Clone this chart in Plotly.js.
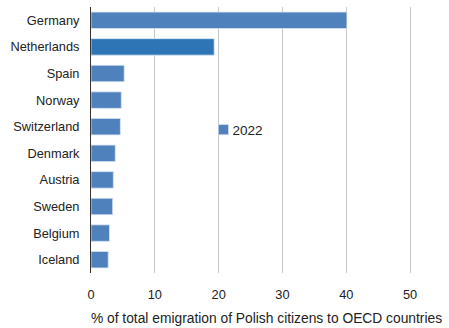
<!DOCTYPE html>
<html><head><meta charset="utf-8">
<script src="https://cdn.plot.ly/plotly-3.0.1.min.js"></script>
<style>body{margin:0;padding:0;background:#fff}</style>
</head><body>
<div id="chart" style="width:449px;height:328px"></div>
<script>
const countries = ["Germany","Netherlands","Spain","Norway","Switzerland","Denmark","Austria","Sweden","Belgium","Iceland"];
const values2022 = [40.1, 19.3, 5.2, 4.75, 4.6, 3.8, 3.5, 3.4, 2.9, 2.7];
const barColors = ["#4F81BD","#2E75B6","#4F81BD","#4F81BD","#4F81BD","#4F81BD","#4F81BD","#4F81BD","#4F81BD","#4F81BD"];
const xTicks = [0,10,20,30,40,50];

Plotly.newPlot("chart", [{
  type: "bar",
  orientation: "h",
  x: values2022,
  y: countries,
  name: "2022",
  width: 0.62,
  marker: {color: barColors, line: {color: "#DCE6F2", width: 0.8}}
}], {
  width: 449, height: 328,
  margin: {l: 91, r: 7, t: 7, b: 55},
  paper_bgcolor: "#fff", plot_bgcolor: "#fff",
  font: {family: "Liberation Sans, Arial, sans-serif", size: 12.8, color: "#222"},
  xaxis: {
    range: [0, 55], tickvals: xTicks, ticktext: xTicks.map(String),
    showgrid: true, gridcolor: "#C8C8C8", gridwidth: 1, zeroline: false,
    showline: false, ticks: "", ticklabelstandoff: 12,
    title: {text: "% of total emigration of Polish citizens to OECD countries", font: {size: 13.8, color: "#222"}, standoff: 12}
  },
  yaxis: {
    autorange: "reversed", showline: true, linecolor: "#333", linewidth: 1,
    ticks: "", ticklabelstandoff: 8, showgrid: false
  },
  showlegend: true,
  legend: {x: 0.289, y: 0.538, xanchor: "left", yanchor: "middle", bgcolor: "rgba(0,0,0,0)",
           font: {size: 13.5, color: "#222"}, itemwidth: 30, tracegroupgap: 0}
}, {displayModeBar: false, staticPlot: true}).then(function(gd){
  gd.querySelectorAll(".legend .legendpoints").forEach(function(g){
    g.setAttribute("transform", "translate(14,0) scale(0.85)");
  });
});
</script>
</body></html>
